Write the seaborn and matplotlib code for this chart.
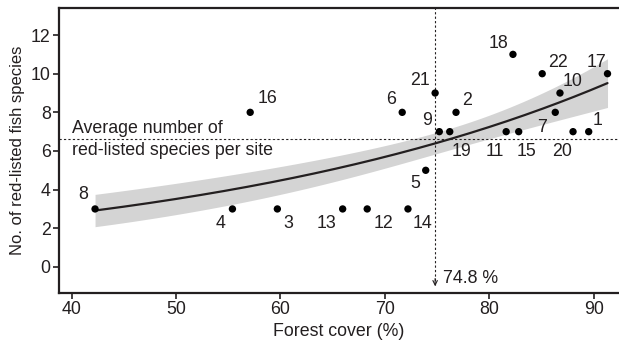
import numpy as np
import pandas as pd
import matplotlib
matplotlib.use('Agg')
import matplotlib.pyplot as plt
import seaborn as sns

# site number, forest cover (%), number of red-listed fish species
sites = [1, 2, 3, 4, 5, 6, 7, 8, 9, 10, 11,
         12, 13, 14, 15, 16, 17, 18, 19, 20, 21, 22]
forest_cover = [89.5, 76.8, 59.7, 55.4, 73.9, 71.65, 86.3, 42.25, 75.2, 86.75, 81.6,
                68.3, 65.95, 72.2, 82.8, 57.1, 91.3, 82.25, 76.2, 88.0, 74.8, 85.05]
red_listed = [7, 8, 3, 3, 5, 8, 8, 3, 7, 9, 7,
              3, 3, 3, 7, 8, 10, 11, 7, 7, 9, 10]
threshold = 74.8

# label offsets (pixels) for the site numbers
label_offsets = {1: (9, 11), 2: (11, 12), 3: (11, -15), 4: (-12, -15), 5: (-10, -13),
                 6: (-11, 13), 7: (-13, -15), 8: (-12, 14), 9: (-12, 11), 10: (13, 12),
                 11: (-11, -20), 12: (16, -15), 13: (-16, -15), 14: (15, -15),
                 15: (8, -20), 16: (17, 14), 17: (-11, 11), 18: (-14, 11),
                 19: (12, -20), 20: (-11, -20), 21: (-15, 13), 22: (16, 11)}

df = pd.DataFrame({'site': sites, 'forest': forest_cover, 'species': red_listed})

# Poisson GLM (log link) by IRLS
x = df['forest'].values.astype(float)
y = df['species'].values.astype(float)
X = np.column_stack([np.ones_like(x), x])
beta = np.array([np.log(y.mean()), 0.0])
for i in range(100):
    eta = X @ beta
    mu = np.exp(eta)
    z = eta + (y - mu) / mu
    XtW = X.T * mu
    beta = np.linalg.solve(XtW @ X, XtW @ z)
mu = np.exp(X @ beta)
cov = np.linalg.inv((X.T * mu) @ X)

# fitted curve +/- 1 SE on the response scale
grid = np.linspace(x.min(), x.max(), 200)
G = np.column_stack([np.ones_like(grid), grid])
fit = np.exp(G @ beta)
se = fit * np.sqrt(np.sum((G @ cov) * G, axis=1))

sns.set_theme(style='ticks')
plt.rcParams['font.family'] = ['Liberation Sans', 'DejaVu Sans']
ink = '#231f20'
fs = 12.8

fig = plt.figure(figsize=(6.19, 3.44), dpi=100)
ax = fig.add_axes([59 / 619, 51 / 344, 560 / 619, 285 / 344])

ax.fill_between(grid, fit - se, fit + se, color='#d4d4d4', lw=0, zorder=1)
sns.lineplot(x=grid, y=fit, ax=ax, color=ink, lw=1.6, zorder=3)

avg = y.mean()
ax.axhline(avg, color=ink, ls=(0, (2, 2)), lw=0.8, zorder=2)
ax.vlines(threshold, -0.95, 13.4, color=ink, linestyles=(0, (2, 2)), lw=0.8, zorder=2)
ax.annotate('', xy=(threshold, -1.0), xytext=(threshold, -0.6),
            arrowprops=dict(arrowstyle='->', color=ink, lw=0.8,
                            mutation_scale=8, shrinkA=0, shrinkB=0))
ax.text(threshold + 0.75, -0.58, f'{threshold} %', fontsize=fs, color=ink,
        ha='left', va='center')

sns.scatterplot(data=df, x='forest', y='species', ax=ax, color='black',
                s=28, edgecolor='none', zorder=4, legend=False)

for s, xv, yv in zip(sites, forest_cover, red_listed):
    ax.annotate(str(s), (xv, yv), xytext=label_offsets[s], textcoords='offset pixels',
                ha='center', va='center', fontsize=fs, color=ink)

ax.text(40.02, 6.95, 'Average number of', fontsize=fs, color=ink, va='baseline')
ax.text(40.02, 5.79, 'red-listed species per site', fontsize=fs, color=ink, va='baseline')

ax.set_xlim(38.8, 92.4)
ax.set_ylim(-1.35, 13.4)
ax.set_xticks([40, 50, 60, 70, 80, 90])
ax.set_yticks([0, 2, 4, 6, 8, 10, 12])
ax.set_xlabel('Forest cover (%)', fontsize=fs, color=ink, labelpad=3)
ax.set_ylabel('No. of red-listed fish species', fontsize=12, color=ink, labelpad=4)
ax.tick_params(axis='both', labelsize=fs, colors=ink, length=4, width=1.2, pad=2)

ax.spines['right'].set_visible(False)
for side in ['left', 'top', 'bottom']:
    ax.spines[side].set_linewidth(1.6)
    ax.spines[side].set_color(ink)

fig.savefig('out.png', dpi=100)
